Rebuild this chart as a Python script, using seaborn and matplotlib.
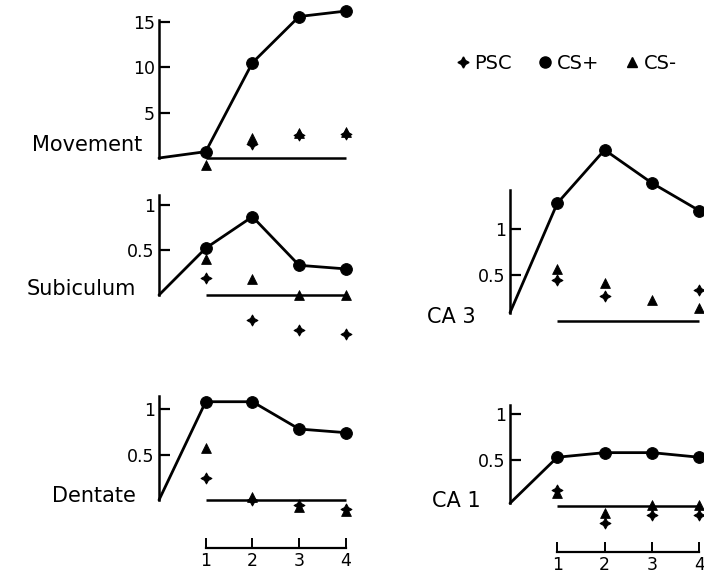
"""Conditioned unit responses by region across training blocks (scan re-draw)."""

import matplotlib

matplotlib.use("Agg")

import matplotlib.pyplot as plt
import numpy as np
import pandas as pd
import seaborn as sns


BLOCKS = [1, 2, 3, 4]

MOVEMENT_CS_PLUS = [0.7, 10.5, 15.6, 16.2]
MOVEMENT_CS_MINUS = [-0.8, 2.2, 2.8, 2.9]
MOVEMENT_PSC = [np.nan, 1.5, 2.5, 2.6]

SUBICULUM_CS_PLUS = [0.52, 0.87, 0.33, 0.29]
SUBICULUM_CS_MINUS = [0.40, 0.18, 0.0, 0.0]
SUBICULUM_PSC = [0.19, -0.28, -0.39, -0.43]

DENTATE_CS_PLUS = [1.08, 1.08, 0.78, 0.74]
DENTATE_CS_MINUS = [0.57, 0.03, -0.08, -0.12]
DENTATE_PSC = [0.24, 0.0, -0.05, -0.10]

CA3_CS_PLUS = [1.28, 1.86, 1.50, 1.20]
CA3_CS_MINUS = [0.56, 0.41, 0.23, 0.14]
CA3_PSC = [0.45, 0.27, np.nan, 0.34]

CA1_CS_PLUS = [0.53, 0.58, 0.58, 0.53]
CA1_CS_MINUS = [0.14, -0.08, 0.01, 0.01]
CA1_PSC = [0.17, -0.18, -0.10, -0.10]

# value where each CS+ curve leaves the y axis
START = {"Movement": 0.0, "Subiculum": 0.0, "Dentate": 0.0, "CA 3": 0.09, "CA 1": 0.03}

Y_TICKS = {
    "Movement": [5, 10, 15],
    "Subiculum": [0.5, 1],
    "Dentate": [0.5, 1],
    "CA 3": [0.5, 1],
    "CA 1": [0.5, 1],
}
Y_TICK_LABELS = {
    "Movement": ["5", "10", "15"],
    "Subiculum": ["0.5", "1"],
    "Dentate": ["0.5", "1"],
    "CA 3": ["0.5", "1"],
    "CA 1": ["0.5", "1"],
}

W, H = 704, 579


def build_frame() -> pd.DataFrame:
    series = {
        "Movement": (MOVEMENT_CS_PLUS, MOVEMENT_CS_MINUS, MOVEMENT_PSC),
        "Subiculum": (SUBICULUM_CS_PLUS, SUBICULUM_CS_MINUS, SUBICULUM_PSC),
        "Dentate": (DENTATE_CS_PLUS, DENTATE_CS_MINUS, DENTATE_PSC),
        "CA 3": (CA3_CS_PLUS, CA3_CS_MINUS, CA3_PSC),
        "CA 1": (CA1_CS_PLUS, CA1_CS_MINUS, CA1_PSC),
    }
    rows = []
    for region, (plus, minus, psc) in series.items():
        for name, values in (("CS+", plus), ("CS-", minus), ("PSC", psc)):
            for block, value in zip(BLOCKS, values):
                rows.append({"region": region, "stimulus": name, "block": block, "value": value})
    return pd.DataFrame(rows)


def place(fig, ox, oy, sx, sy, xlim, ylim):
    # ox, oy: pixel position of data (0, 0); sx, sy: pixels per unit
    left = ox + xlim[0] * sx
    right = ox + xlim[1] * sx
    top = oy - ylim[1] * sy
    bottom = oy - ylim[0] * sy
    ax = fig.add_axes([left / W, 1 - bottom / H, (right - left) / W, (bottom - top) / H])
    ax.set_xlim(*xlim)
    ax.set_ylim(*ylim)
    return ax


def draw_panel(ax, data, region, spine_bounds, label_xy, xaxis=False):
    sub = data[data["region"] == region]
    plus = sub[sub["stimulus"] == "CS+"]
    line = pd.concat(
        [pd.DataFrame({"block": [0], "value": [START[region]]}), plus[["block", "value"]]],
        ignore_index=True,
    )
    sns.lineplot(data=line, x="block", y="value", ax=ax, color="black", linewidth=2.0,
                 sort=False, legend=False)
    ax.hlines(0, 1, 4, color="black", linewidth=1.8)

    sns.scatterplot(data=sub[sub["stimulus"] == "PSC"], x="block", y="value", ax=ax,
                    marker=(4, 1, 0), s=60, color="black", edgecolor="black", linewidth=0.8,
                    legend=False, zorder=4)
    sns.scatterplot(data=sub[sub["stimulus"] == "CS-"], x="block", y="value", ax=ax,
                    marker="^", s=50, color="black", edgecolor="black", legend=False, zorder=4)
    sns.scatterplot(data=plus, x="block", y="value", ax=ax,
                    marker="o", s=72, color="black", edgecolor="black", legend=False, zorder=5)

    for side in ("top", "right"):
        ax.spines[side].set_visible(False)
    ax.spines["left"].set_position(("data", 0))
    ax.spines["left"].set_bounds(*spine_bounds)
    ax.spines["left"].set_linewidth(1.8)
    ax.set_yticks(Y_TICKS[region])
    ax.set_yticklabels(Y_TICK_LABELS[region])
    ax.tick_params(axis="y", left=True, direction="in", length=8, width=1.6,
                   labelsize=12.5, pad=3, colors="black")

    if xaxis:
        ax.spines["bottom"].set_bounds(1, 4)
        ax.spines["bottom"].set_linewidth(1.6)
        ax.set_xticks(BLOCKS)
        ax.set_xticklabels([str(b) for b in BLOCKS])
        ax.tick_params(axis="x", bottom=True, direction="in", length=7, width=1.4,
                       labelsize=12.5, pad=3, colors="black")
    else:
        ax.spines["bottom"].set_visible(False)
        ax.set_xticks([])

    ax.set_xlabel("")
    ax.set_ylabel("")
    ax.patch.set_alpha(0)
    ax.text(label_xy[0], label_xy[1], region, ha="right", va="baseline", fontsize=15,
            color="black")


def main() -> None:
    sns.set_style("white")
    plt.rcParams["font.family"] = ["DejaVu Sans"]
    plt.rcParams["axes.edgecolor"] = "black"
    plt.rcParams["text.color"] = "black"
    data = build_frame()

    fig = plt.figure(figsize=(W / 100, H / 100), dpi=100)

    ax = place(fig, 159, 158, 46.7, 9.07, (-0.3, 4.3), (-1.5, 17.3))
    draw_panel(ax, data, "Movement", (0, 15.2), (-0.36, 0.8))

    ax = place(fig, 159, 295, 46.7, 90, (-0.3, 4.3), (-0.55, 1.2))
    draw_panel(ax, data, "Subiculum", (0, 1.11), (-0.5, 0.0))

    ax = place(fig, 159, 500, 46.7, 91, (-0.3, 4.3), (-0.53, 1.2))
    draw_panel(ax, data, "Dentate", (0, 1.14), (-0.5, -0.02), xaxis=True)

    ax = place(fig, 510, 321, 47.3, 92, (-0.3, 4.15), (-0.15, 2.0))
    draw_panel(ax, data, "CA 3", (0.09, 1.42), (-0.72, -0.02))

    ax = place(fig, 510, 506, 47.3, 92, (-0.3, 4.15), (-0.5, 1.2))
    draw_panel(ax, data, "CA 1", (0.03, 1.1), (-0.63, -0.01), xaxis=True)

    handles = [
        plt.Line2D([], [], linestyle="", marker=(4, 1, 0), markersize=8, color="black"),
        plt.Line2D([], [], linestyle="", marker="o", markersize=8, color="black"),
        plt.Line2D([], [], linestyle="", marker="^", markersize=7, color="black"),
    ]
    fig.legend(handles, ["PSC", "CS+", "CS-"], loc="center", bbox_to_anchor=(565 / W, 1 - 63 / H),
               ncol=3, frameon=False, fontsize=14, handletextpad=0.1, columnspacing=1.2,
               handlelength=1.0)

    fig.savefig("out.png", dpi=100)
    plt.close(fig)


if __name__ == "__main__":
    main()
